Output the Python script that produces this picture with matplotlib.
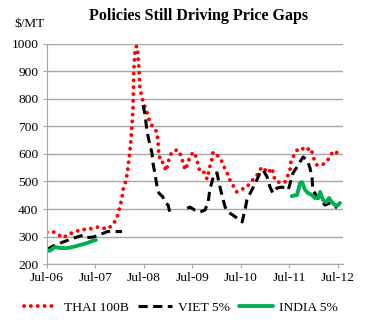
import matplotlib
matplotlib.use('Agg')
import matplotlib.pyplot as plt
import numpy as np

plt.rcParams['font.family'] = ['Liberation Serif', 'DejaVu Serif']

nan = np.nan

# months since Jul-2006
thai_m = [0.0, 1.7, 3.0, 4.0, 5.4, 6.9, 8.7, 9.9, 11.4, 12.9, 14.9, 16.3, 17.3,
          18.1, 18.6, 18.8, 19.6, 20.0, 20.5, 20.8, 21.0, 21.3, 21.4, 21.5, 21.8,
          22.0, 22.3, 22.5, 22.8, 23.0, 23.5, 24.3, 25.0, 25.5, 26.2, 27.2, 27.5,
          27.6, 27.7, 28.5, 28.7, 29.2, 29.5, 30.0, 30.4, 31.2, 32.4, 33.2, 33.7,
          34.2, 34.9, 35.4, 36.4, 37.1, 37.4, 37.9, 38.6, 39.1, 39.6, 40.3, 40.8,
          41.1, 41.6, 42.3, 43.1, 44.1, 44.6, 45.3, 46.0, 47.0, 47.8, 49.5, 50.2,
          52.0, 53.2, 53.5, 54.7, 55.7, 56.4, 57.2, 58.4, 58.9, 60.1, 60.4, 61.4,
          62.1, 63.1, 63.9, 65.1, 65.6, 66.3, 66.8, 68.1, 69.1, 70.0, 70.8, 72.0]
thai_v = [316, 316, 305, 295, 309, 316, 327, 324, 331, 335, 327, 342, 367,
          410, 440, 469, 505, 542, 604, 651, 695, 760, 822, 900, 971,
          989, 992, 965, 905, 844, 805, 770, 742, 713, 700, 680, 643,
          618, 589, 585, 560, 549, 538, 567, 593, 611, 615, 593, 567,
          542, 567, 593, 607, 582, 560, 535, 535, 531, 509, 553, 578,
          607, 603, 593, 578, 545, 531, 505, 487, 462, 469, 480, 494,
          524, 553, 550, 531, 549, 505, 498, 494, 498, 538, 575, 603,
          618, 622, 611, 622, 607, 571, 560, 560, 571, 589, 611, 603]

viet_m = [0.0, 1.5, 4.0, 7.4, 9.0, 10.0, 11.5, 12.6, 14.0, 15.0, 16.0, 18.6,
          21.0,
          23.8, 24.3, 24.5, 24.8, 25.5, 26.0, 26.2, 26.7, 27.2, 27.7, 28.7, 29.2,
          30.0, 30.4, 31.2,
          33.0,
          34.7, 35.4, 36.6, 37.9, 39.1, 39.9, 40.3, 41.1, 41.6, 42.1, 42.6, 43.3,
          44.1, 44.8, 46.0, 47.3, 48.3, 49.0, 49.5, 50.7, 51.7, 52.7, 53.5, 54.5,
          55.2, 55.9, 56.9, 58.2, 59.7, 60.4, 60.9, 61.9, 62.6, 63.4, 64.4, 65.1,
          65.6, 65.8, 67.1, 68.3, 68.8, 70.0, 71.8]
viet_v = [253, 265, 280, 298, 305, 296, 298, 305, 312, 318, 318, 318,
          nan,
          778, 742, 716, 680, 633, 604, 571, 531, 487, 458, 444, 425,
          414, 389, 403,
          nan,
          403, 407, 396, 389, 396, 425, 469, 513, 531, 531, 494, 451,
          407, 389, 378, 364, 353, 396, 433, 469, 498, 531, 542, 516,
          480, 458, 476, 480, 469, 505, 531, 553, 571, 589, 578, 549,
          513, 469, 440, 425, 414, 422, 404]

india_m = [0.0, 0.7, 2.0, 3.2, 5.0, 6.4, 8.2, 9.9, 11.1, 12.1,
           30.0,
           60.6, 61.9, 62.6, 63.1, 63.9, 64.6, 65.6, 66.3, 67.1, 67.6, 68.3,
           69.1, 69.8, 70.5, 71.3, 72.0, 72.5]
india_v = [251, 248, 262, 258, 258, 262, 269, 276, 283, 287,
           nan,
           447, 451, 494, 498, 469, 458, 451, 440, 440, 462, 433,
           425, 440, 425, 414, 414, 422]

tick_months = [0, 12, 24, 36, 48, 60, 72]
tick_labels = ['Jul-06', 'Jul-07', 'Jul-08', 'Jul-09', 'Jul-10', 'Jul-11', 'Jul-12']

fig = plt.figure(figsize=(3.69, 3.31), dpi=100)
ax = fig.add_axes([0.127, 0.2024, 0.803, 0.6647])

ax.plot(thai_m, thai_v, color='#ff0000', lw=2.8, linestyle=(0, (0.01, 1.75)),
        dash_capstyle='round', label='THAI 100B')
ax.plot(viet_m, viet_v, color='black', lw=2.2, linestyle=(0, (3.0, 1.8)),
        label='VIET 5%')
ax.plot(india_m, india_v, color='#00b050', lw=2.8, solid_capstyle='round',
        label='INDIA 5%')

ax.set_xlim(0, 73.3)
ax.set_ylim(200, 1000)
ax.set_yticks(range(200, 1001, 100))
ax.set_xticks(tick_months)
ax.set_xticklabels(tick_labels)
ax.grid(axis='y', color='#a6a6a6', lw=1.0)
ax.set_axisbelow(True)
for s in ['top', 'right']:
    ax.spines[s].set_visible(False)
for s in ['left', 'bottom']:
    ax.spines[s].set_color('#a6a6a6')
ax.tick_params(axis='both', color='#a6a6a6', length=3, labelsize=9.7, pad=3)

fig.text(0.537, 0.952, 'Policies Still Driving Price Gaps', ha='center', va='center',
         fontsize=11.5, fontweight='bold')
fig.text(0.04, 0.927, r'\$/MT', ha='left', va='center', fontsize=9.5)

fig.legend(loc='center', bbox_to_anchor=(0.49, 0.07), ncol=3, frameon=False,
           fontsize=9.7, handlelength=2.5, handletextpad=0.45, columnspacing=0.7)

fig.savefig('out.png', dpi=100)
